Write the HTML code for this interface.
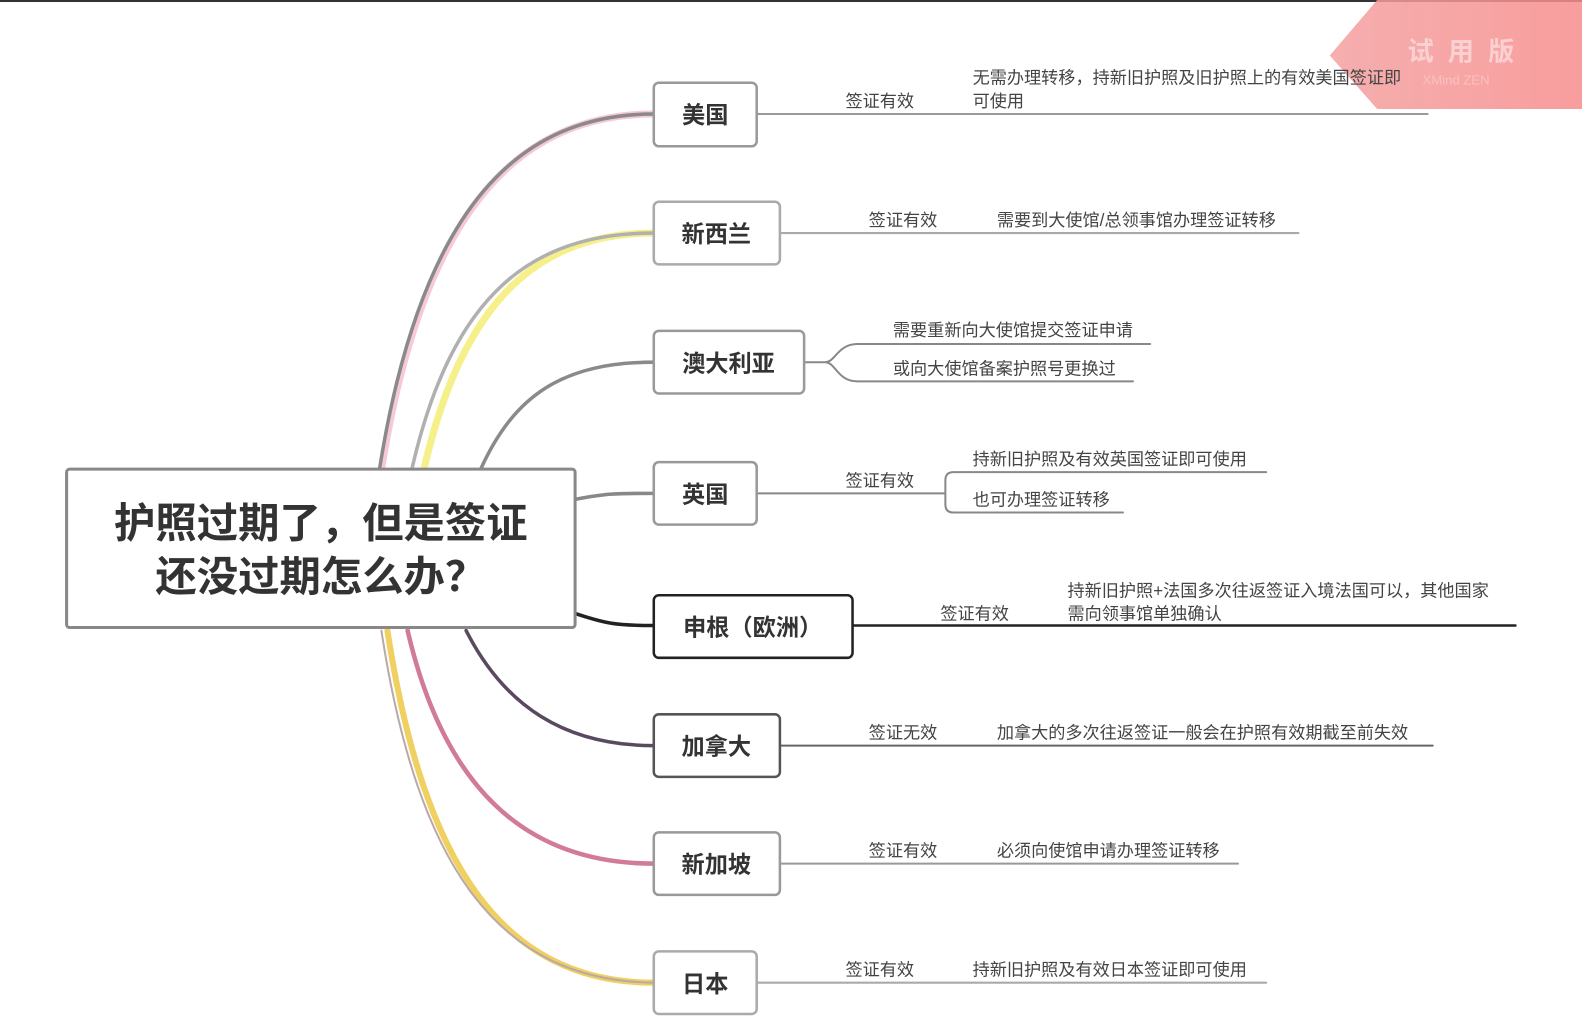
<!DOCTYPE html>
<html><head><meta charset="utf-8"><style>
body{margin:0;width:1582px;height:1018px;background:#fff;overflow:hidden;position:relative;font-family:"Liberation Sans","Noto Sans CJK SC",sans-serif}
svg{position:absolute;left:0;top:0}
</style></head><body>
<svg width="1582" height="1018" viewBox="0 0 1568 1009" preserveAspectRatio="none">
<defs>
<linearGradient id="wm" x1="0" x2="1"><stop offset="0" stop-color="#f4a0a0"/><stop offset="1" stop-color="#f78c8c"/></linearGradient>
</defs>
<rect x="0" y="0" width="1568" height="2" fill="#333"/>
<polygon points="1365,0 1568,0 1568,108 1365,108 1318,55" fill="url(#wm)" opacity="0.85"/>
<text x="1395" y="60" font-size="26" font-weight="bold" fill="#fbd0d0" letter-spacing="14">试用版</text>
<text x="1410" y="84" font-size="13" fill="#fbc0c0">XMind ZEN</text>

<g fill="none" stroke-linecap="round">
<path d="M378,466 C420,200 520,113 648,113" stroke="#f7c9d6" stroke-width="7"/>
<path d="M376,466 C418,200 518,113 648,113" stroke="#8a8a8a" stroke-width="3.5"/>
<path d="M420,466 C460,290 540,231 648,231" stroke="#f6f08a" stroke-width="7"/>
<path d="M408,466 C448,290 528,231 648,231" stroke="#b0b0b0" stroke-width="3.5"/>
<path d="M476,466 C510,390 560,359 648,359" stroke="#8a8a8a" stroke-width="3.5"/>
<path d="M570,495 C600,489 610,489 648,489" stroke="#888" stroke-width="3.5"/>
<path d="M570,608 C600,618 610,620 648,620" stroke="#222" stroke-width="3.5"/>
<path d="M462,625 C500,700 560,739 648,739" stroke="#5a4a60" stroke-width="3.5"/>
<path d="M404,625 C440,780 520,856 648,856" stroke="#d27a9a" stroke-width="4.5"/>
<path d="M384,625 C420,860 500,974 648,974" stroke="#f0d060" stroke-width="6"/>
<path d="M378,625 C414,860 494,972 648,974" stroke="#b9a9a9" stroke-width="2"/>
<path d="M750,113 H1415" stroke="#999" stroke-width="2"/>
<path d="M773,231 H1287" stroke="#aaa" stroke-width="2"/>
<path d="M797,359 H818 C828,359 830,341 850,341 H1140 M818,359 C828,359 830,378 850,378 H1123" stroke="#888" stroke-width="2"/>
<path d="M750,489 H937 M1255,468 H945 Q937,468 937,476 V500 Q937,508 945,508 H1113" stroke="#888" stroke-width="2"/>
<path d="M845,620 H1502" stroke="#222" stroke-width="2.5"/>
<path d="M773,739 H1420" stroke="#666" stroke-width="2"/>
<path d="M773,856 H1227" stroke="#999" stroke-width="2"/>
<path d="M750,974 H1255" stroke="#aaa" stroke-width="2"/>
</g>

<rect x="66" y="465" width="504" height="157" rx="3" fill="#fff" stroke="#888" stroke-width="3"/>
<text x="318" y="533" text-anchor="middle" font-size="41" font-weight="bold" fill="#333">护照过期了，但是签证</text>
<text x="318" y="586" text-anchor="middle" font-size="41" font-weight="bold" fill="#333">还没过期怎么办？</text>

<g font-size="23" font-weight="bold" fill="#333">
<rect x="648" y="82" width="102" height="63" rx="5" fill="#fff" stroke="#999" stroke-width="2.5"/><text x="699" y="122" text-anchor="middle">美国</text>
<rect x="648" y="200" width="125" height="62" rx="5" fill="#fff" stroke="#aaa" stroke-width="2.5"/><text x="710" y="240" text-anchor="middle">新西兰</text>
<rect x="648" y="328" width="149" height="62" rx="5" fill="#fff" stroke="#999" stroke-width="2.5"/><text x="722" y="368" text-anchor="middle">澳大利亚</text>
<rect x="648" y="458" width="102" height="62" rx="5" fill="#fff" stroke="#999" stroke-width="2.5"/><text x="699" y="498" text-anchor="middle">英国</text>
<rect x="648" y="590" width="197" height="62" rx="5" fill="#fff" stroke="#222" stroke-width="2.5"/><text x="746" y="630" text-anchor="middle">申根（欧洲）</text>
<rect x="648" y="708" width="125" height="62" rx="5" fill="#fff" stroke="#555" stroke-width="2.5"/><text x="710" y="748" text-anchor="middle">加拿大</text>
<rect x="648" y="825" width="125" height="62" rx="5" fill="#fff" stroke="#999" stroke-width="2.5"/><text x="710" y="865" text-anchor="middle">新加坡</text>
<rect x="648" y="943" width="102" height="62" rx="5" fill="#fff" stroke="#aaa" stroke-width="2.5"/><text x="699" y="983" text-anchor="middle">日本</text>
</g>

<g font-size="17" fill="#444">
<text x="838" y="106">签证有效</text>
<text x="964" y="83">无需办理转移，持新旧护照及旧护照上的有效美国签证即</text>
<text x="964" y="106">可使用</text>
<text x="861" y="224">签证有效</text>
<text x="988" y="224">需要到大使馆/总领事馆办理签证转移</text>
<text x="885" y="333">需要重新向大使馆提交签证申请</text>
<text x="885" y="371">或向大使馆备案护照号更换过</text>
<text x="838" y="482">签证有效</text>
<text x="964" y="461">持新旧护照及有效英国签证即可使用</text>
<text x="964" y="501">也可办理签证转移</text>
<text x="932" y="614">签证有效</text>
<text x="1058" y="591">持新旧护照+法国多次往返签证入境法国可以，其他国家</text>
<text x="1058" y="614">需向领事馆单独确认</text>
<text x="861" y="732">签证无效</text>
<text x="988" y="732">加拿大的多次往返签证一般会在护照有效期截至前失效</text>
<text x="861" y="849">签证有效</text>
<text x="988" y="849">必须向使馆申请办理签证转移</text>
<text x="838" y="967">签证有效</text>
<text x="964" y="967">持新旧护照及有效日本签证即可使用</text>
</g>
</svg>
</body></html>
